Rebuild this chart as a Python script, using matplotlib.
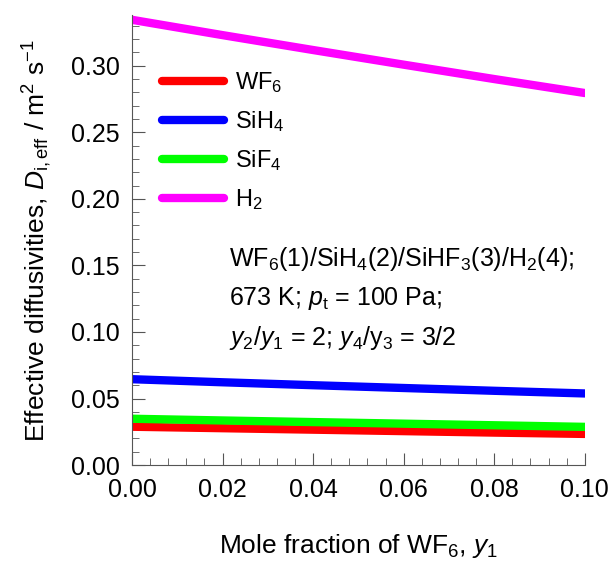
import numpy as np
import matplotlib
matplotlib.use("Agg")
import matplotlib.pyplot as plt
from matplotlib.ticker import MultipleLocator, FormatStrFormatter

plt.rcParams['font.family'] = ['Liberation Sans', 'DejaVu Sans']
plt.rcParams['mathtext.fontset'] = 'custom'
plt.rcParams['mathtext.rm'] = 'Liberation Sans'
plt.rcParams['mathtext.it'] = 'Liberation Sans:italic'

y1 = [0.0, 0.02, 0.04, 0.06, 0.08, 0.10]
d_wf6 = [0.0288, 0.0277, 0.0266, 0.0255, 0.0244, 0.0234]
d_sih4 = [0.0645, 0.0622, 0.0600, 0.0579, 0.0558, 0.0538]
d_sif4 = [0.0348, 0.0335, 0.0323, 0.0311, 0.0299, 0.0287]
d_h2 = [0.3345, 0.3230, 0.3118, 0.3008, 0.2900, 0.2795]

names = ["WF$_6$", "SiH$_4$", "SiF$_4$", "H$_2$"]
colors = ["#ff0000", "#0000ff", "#00ff00", "#ff00ff"]

fig = plt.figure(figsize=(6.11, 5.61), dpi=100)
ax = fig.add_axes([0.216, 0.171, 0.741, 0.802])

for d, n, c in zip([d_wf6, d_sih4, d_sif4, d_h2], names, colors):
    ax.plot(y1, d, color=c, lw=6, solid_capstyle='round', label=n)

ax.set_xlim(0, 0.10)
ax.set_ylim(0, 0.338)
ax.xaxis.set_major_locator(MultipleLocator(0.02))
ax.xaxis.set_minor_locator(MultipleLocator(0.004))
ax.yaxis.set_major_locator(MultipleLocator(0.05))
ax.yaxis.set_minor_locator(MultipleLocator(0.01))
ax.xaxis.set_major_formatter(FormatStrFormatter('%.2f'))
ax.yaxis.set_major_formatter(FormatStrFormatter('%.2f'))
ax.tick_params(which='both', direction='in', labelsize=18, color='#555555')
ax.tick_params(which='major', length=9, pad=9)
ax.tick_params(which='minor', length=5)
for s in ['top', 'right']:
    ax.spines[s].set_visible(False)
for s in ['left', 'bottom']:
    ax.spines[s].set_color('#555555')

ax.set_xlabel("Mole fraction of WF$_6$, $\\mathit{y}_1$", fontsize=19, labelpad=22)
ax.set_ylabel("Effective diffusivities, $\\mathit{D}_{\\mathrm{i,eff}}$ / m$^2$ s$^{-1}$",
              fontsize=19, labelpad=12)

ax.legend(loc='upper left', bbox_to_anchor=(0.02, 0.925), frameon=False,
          fontsize=17, handlelength=2.6, handletextpad=0.5, labelspacing=0.6)

ax.text(0.215, 0.49,
        "WF$_6$(1)/SiH$_4$(2)/SiHF$_3$(3)/H$_2$(4);\n"
        "673 K; $\\mathit{p}_{\\mathrm{t}}$ = 100 Pa;\n"
        "$\\mathit{y}_2$/$\\mathit{y}_1$ = 2; $\\mathit{y}_4$/y$_3$ = 3/2",
        transform=ax.transAxes, fontsize=18, va='top', linespacing=1.6)

fig.savefig("out.png", dpi=100)
